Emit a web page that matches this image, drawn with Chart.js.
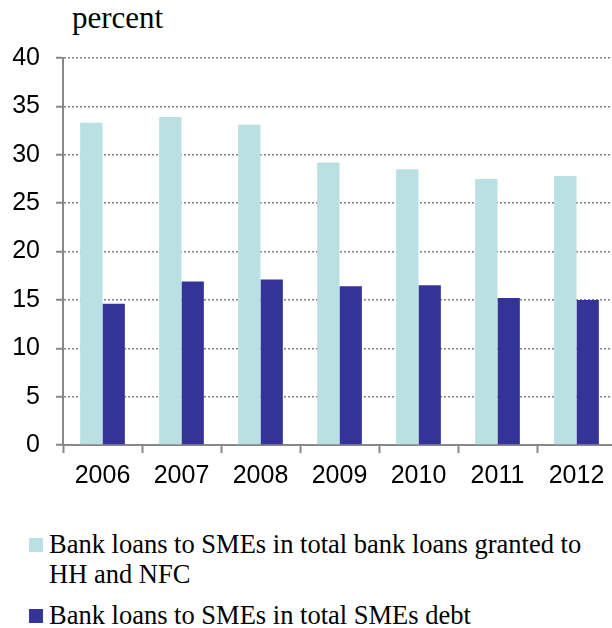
<!DOCTYPE html>
<html>
<head>
<meta charset="utf-8">
<script src="https://cdn.jsdelivr.net/npm/chart.js@4/dist/chart.umd.min.js"></script>
<style>
  html, body { margin: 0; padding: 0; background: #fff; }
  body { width: 612px; height: 628px; overflow: hidden; position: relative; }
  #unit { position: absolute; left: 72px; top: 3px; font: 31px "Liberation Serif", "Times New Roman", serif; line-height: 30px; color: #000; }
  #chart { position: absolute; left: 0; top: 0; }
  #legend { position: absolute; left: 0; top: 529px; font: 26.5px "Liberation Serif", "Times New Roman", serif; line-height: 30px; color: #000; }
  .item { position: relative; padding-left: 49px; width: 545px; margin-bottom: 11px; }
  .box { position: absolute; left: 29px; top: 9px; width: 14px; height: 14px; }
</style>
</head>
<body>
<div id="unit">percent</div>
<canvas id="chart" width="616" height="500"></canvas>
<div id="legend"></div>
<script>
// Data
const years = ['2006', '2007', '2008', '2009', '2010', '2011', '2012'];
const shareOfBankLoans = [33.3, 33.9, 33.1, 29.2, 28.5, 27.5, 27.8];
const shareOfSmeDebt = [14.6, 16.9, 17.1, 16.4, 16.5, 15.2, 15.0];
const seriesNames = [
  'Bank loans to SMEs in total bank loans granted to HH and NFC',
  'Bank loans to SMEs in total SMEs debt'
];
const seriesColors = ['#b9e0e3', '#333399'];
const yMin = 0, yMax = 40, yStep = 5;

const axisGray = '#888888';
const tickFont = { family: '"Liberation Sans", Arial, sans-serif', size: 25 };

const chart = new Chart(document.getElementById('chart'), {
  type: 'bar',
  data: {
    labels: years,
    datasets: [
      { label: seriesNames[0], data: shareOfBankLoans, backgroundColor: seriesColors[0] },
      { label: seriesNames[1], data: shareOfSmeDebt, backgroundColor: seriesColors[1] }
    ]
  },
  options: {
    responsive: false,
    animation: false,
    devicePixelRatio: 1,
    categoryPercentage: 0.566,
    barPercentage: 1,
    layout: { padding: { top: 58, right: 0, bottom: 0, left: 0 } },
    plugins: { legend: { display: false }, tooltip: { enabled: false } },
    scales: {
      x: {
        afterFit: (scale) => { scale.height = 55; },
        grid: { drawOnChartArea: false, drawTicks: true, tickLength: 8, tickColor: axisGray, tickWidth: 2, offset: true },
        border: { color: axisGray, width: 2 },
        ticks: { color: '#000', font: tickFont, padding: 8, maxRotation: 0, autoSkip: false }
      },
      y: {
        min: yMin,
        max: yMax,
        afterFit: (scale) => { scale.width = 63; },
        grid: { color: '#808080', lineWidth: 1.5, tickLength: 7, tickColor: axisGray, tickWidth: 2 },
        border: { color: axisGray, width: 2, dash: [2, 2] },
        ticks: { stepSize: yStep, color: '#000', font: tickFont, padding: 16 }
      }
    }
  }
});

// HTML legend so the first entry can wrap like the original
const legend = document.getElementById('legend');
legend.innerHTML = chart.data.datasets.map(ds => `
  <div class="item"><span class="box" style="background:${ds.backgroundColor}"></span>${ds.label}</div>
`).join('');
</script>
</body>
</html>
